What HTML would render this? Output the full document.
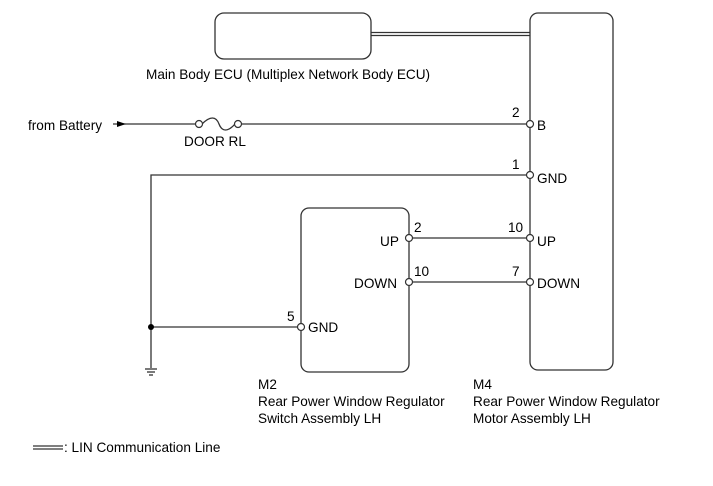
<!DOCTYPE html><html><head><style>body{margin:0;background:#fff}text{font-family:"Liberation Sans",sans-serif;font-size:13.6px;fill:#000}</style></head><body>
<svg width="713" height="481" xmlns="http://www.w3.org/2000/svg">
<g fill="none" stroke="#333" stroke-width="1.3">
<rect x="215" y="13" width="156" height="46" rx="9"/>
<rect x="530" y="13" width="83" height="357" rx="8"/>
<rect x="301" y="208" width="108" height="164" rx="8"/>
<line x1="371" y1="32.5" x2="530" y2="32.5"/><line x1="371" y1="35.5" x2="530" y2="35.5"/>
<line x1="113" y1="124" x2="196" y2="124"/>
<path d="M202,124 C210,116 216,116 219,124 C222,132 228,132 235,124"/>
<line x1="241" y1="124" x2="527" y2="124"/>
<polyline points="527,175 151,175 151,368"/>
<line x1="151" y1="327" x2="298" y2="327"/>
<line x1="412" y1="238" x2="527" y2="238"/>
<line x1="412" y1="282" x2="527" y2="282"/>
<line x1="145" y1="369" x2="157" y2="369"/><line x1="147" y1="372" x2="155" y2="372"/><line x1="149" y1="375" x2="153" y2="375"/>
<line x1="33" y1="446" x2="63" y2="446"/><line x1="33" y1="449" x2="63" y2="449"/>
</g>
<path d="M126,124 l-9,-3 v6z" fill="#000"/>
<circle cx="151" cy="327" r="3" fill="#000"/>
<g fill="#fff" stroke="#333" stroke-width="1.2">
<circle cx="199" cy="124" r="3.5"/><circle cx="238" cy="124" r="3.5"/>
<circle cx="530" cy="124" r="3.5"/><circle cx="530" cy="175" r="3.5"/>
<circle cx="530" cy="238" r="3.5"/><circle cx="530" cy="282" r="3.5"/>
<circle cx="409" cy="238" r="3.5"/><circle cx="409" cy="282" r="3.5"/>
<circle cx="301" cy="327" r="3.5"/>
</g>
<text x="146" y="79">Main Body ECU (Multiplex Network Body ECU)</text>
<text x="28" y="130">from Battery</text>
<text x="184" y="146">DOOR RL</text>
<text x="512" y="117">2</text><text x="537" y="130">B</text>
<text x="512" y="169">1</text><text x="537" y="183">GND</text>
<text x="508" y="232">10</text><text x="537" y="246">UP</text>
<text x="512" y="276">7</text><text x="537" y="288">DOWN</text>
<text x="414" y="232">2</text><text x="380" y="246">UP</text>
<text x="414" y="276">10</text><text x="354" y="288">DOWN</text>
<text x="287" y="321">5</text><text x="308" y="332">GND</text>
<text x="258" y="389">M2</text>
<text x="258" y="406">Rear Power Window Regulator</text>
<text x="258" y="423">Switch Assembly LH</text>
<text x="473" y="389">M4</text>
<text x="473" y="406">Rear Power Window Regulator</text>
<text x="473" y="423">Motor Assembly LH</text>
<text x="64" y="452">: LIN Communication Line</text>
</svg></body></html>
